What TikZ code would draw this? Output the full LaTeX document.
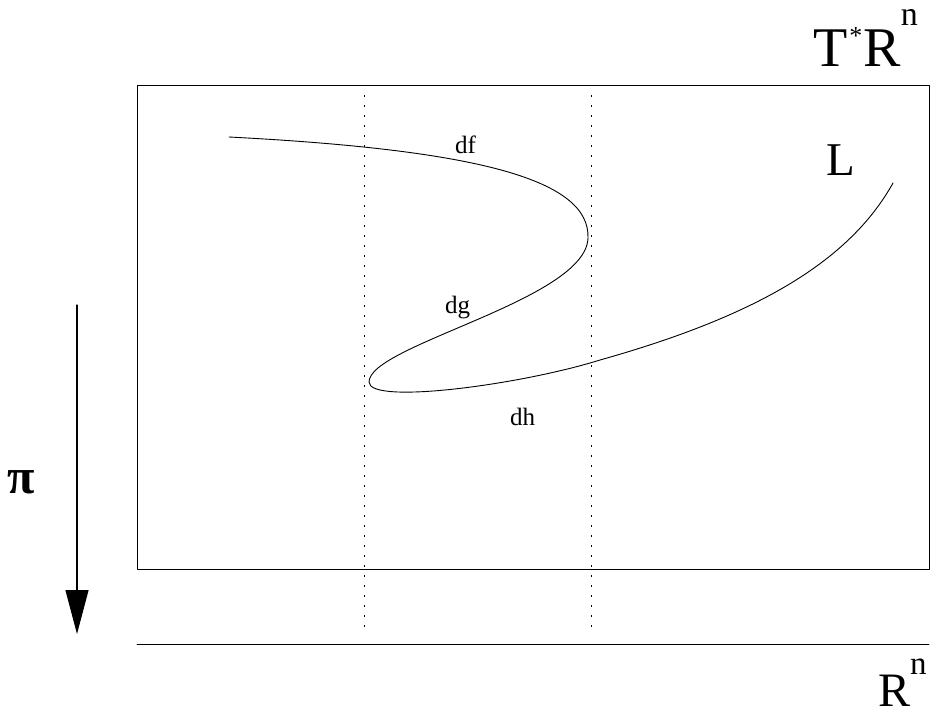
\documentclass[tikz,border=0pt]{standalone}
\usepackage{fontspec}
\setmainfont{Liberation Serif}
\usetikzlibrary{arrows.meta}

\begin{document}
\begin{tikzpicture}[x=1pt,y=-1pt,line cap=round,line join=round,
  lab/.style={inner sep=0pt,anchor=base west},
  fibre/.style={line width=1pt,line cap=butt,dash pattern=on 1.5pt off 8.5pt}]
  \useasboundingbox (0,0) rectangle (931,713);
  \coordinate (NW) at (137,85);
  \coordinate (SE) at (929,569);
  \coordinate (BL) at (137,644);
  \coordinate (BR) at (929,644);
  \coordinate (P1) at (229,137);
  \coordinate (P2) at (588,238);
  \coordinate (P3) at (369,382);
  \coordinate (P4) at (600,360);
  \coordinate (P5) at (893,183);
  \coordinate (At) at (77,305);
  \coordinate (Ab) at (77,634);
  \draw[line width=0.8pt] (NW) rectangle (SE);
  \draw[line width=0.8pt] (BL) -- (BR);
  \draw[fibre] (364,95) -- (364,634);
  \draw[fibre] (591,95) -- (591,634);
  \draw[line width=0.9pt] (P1) .. controls (480,150) and (590,180) .. (P2)
    .. controls (586,300) and (369,345) .. (P3)
    .. controls (369,405) and (520,385) .. (P4)
    .. controls (760,315) and (850,260) .. (P5);
  \draw[line width=1.2pt,-{Triangle[length=44pt,width=23pt]}] (At) -- (Ab);
  \node[lab] (tstar) at (813,66) {\fontsize{56}{60}\selectfont T\hspace{2pt}\raisebox{22pt}{\fontsize{26}{26}\selectfont *}\hspace{1pt}R\raisebox{41pt}{\fontsize{34}{34}\selectfont n}};
  \node[lab] (rn) at (878,706) {\fontsize{48}{52}\selectfont R\raisebox{32pt}{\fontsize{33}{33}\selectfont n}};
  \node[lab] (L) at (826,175) {\fontsize{47}{50}\selectfont L};
  \node[lab] (pi) at (7,493) {\fontsize{50}{50}\selectfont\bfseries π};
  \node[lab] (df) at (455,153) {\fontsize{25}{28}\selectfont df};
  \node[lab] (dg) at (445,313) {\fontsize{25}{28}\selectfont dg};
  \node[lab] (dh) at (510,425) {\fontsize{25}{28}\selectfont dh};
\end{tikzpicture}
\end{document}
